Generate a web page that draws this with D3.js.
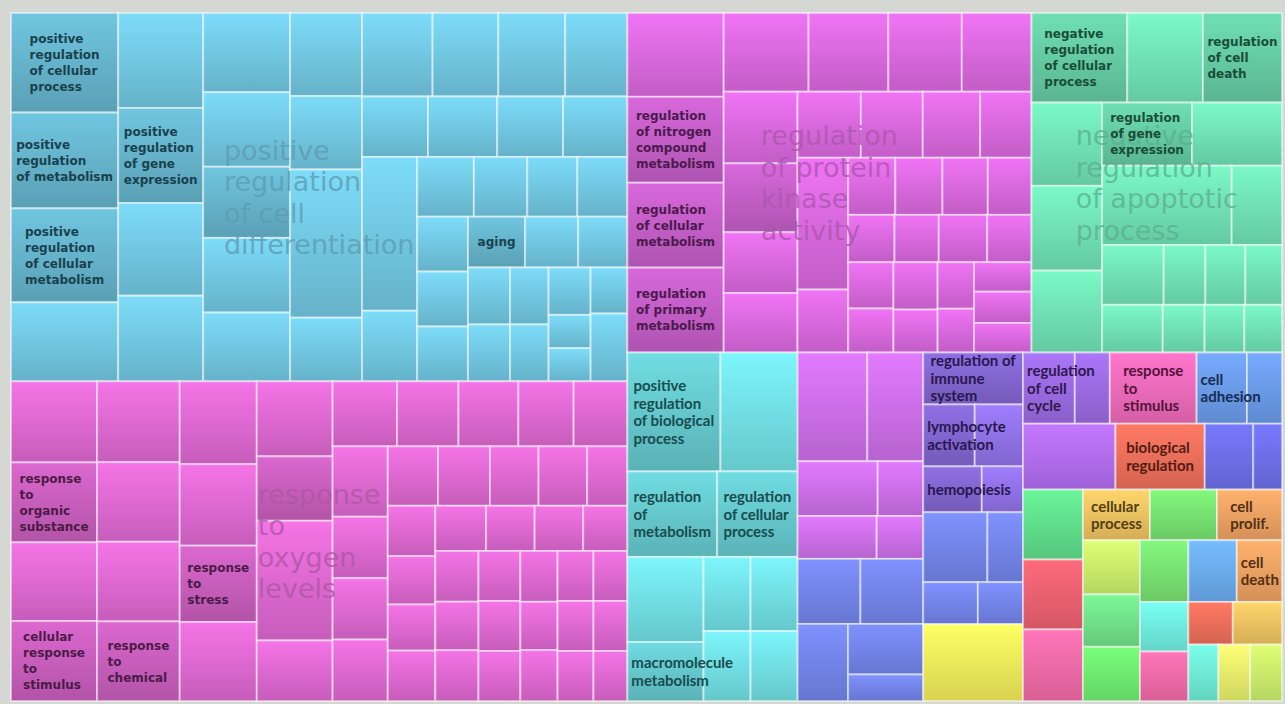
<!DOCTYPE html>
<html>
<head>
<meta charset="utf-8">
<script src="https://cdn.jsdelivr.net/npm/d3@7"></script>
<style>
  body { margin: 0; background: #d5d7d3; }
  svg { display: block; }
</style>
</head>
<body>
<svg id="drawing_region"></svg>
<script>
// base colours of the clusters (cells get a light-to-dark vertical gradient)
const palette = {
  blue: "#70c6e0", pink: "#dc68cf", kinase: "#d868dc", green: "#6fe0b3",
  cyan: "#70dde2", violet: "#cb6ee6", bluev: "#7283e8", purple: "#9070e4",
  yellow: "#f0ea5a", plum: "#9a6ae0", rose: "#ec6ab8", sky: "#6a9ae6",
  orchid: "#b06cee", coral: "#ec6e5a", indigo: "#6c6ee6", mint: "#5fdc8a",
  rosered: "#ec6070", hotpink: "#f06aa6", sand: "#ecc060", lime: "#76e070",
  apricot: "#eca062", chartreuse: "#c8ee6a", spring: "#70e088", leaf: "#6eec6e",
  aqua: "#6eecdc", azure: "#6aaaee", lemon: "#e4ee6a", teal: "#6eecd4"
};

// cell sizes (areas) of each cluster; h = side by side, v = stacked
// a leaf is a value, or [value, label, colour]
const blueCells = {c: "blue", big: "positive\nregulation\nof cell\ndifferentiation", h: [
  {v: [[107, "positive\nregulation\nof cellular\nprocess"], [103, "positive\nregulation\nof metabolism"], [101, "positive\nregulation\nof cellular\nmetabolism"], 85]},
  {v: [81, [81, "positive\nregulation\nof gene\nexpression"], 79, 73]},
  {v: [69, 65, [62, ""], 65, 60]},
  {v: [60, 53, 107, 46]},
  {v: [
    {h: [59, 55, 56, 52]},
    {h: [40, 42, 40, 39]},
    {h: [
      {v: [85, 39]},
      {v: [
        {h: [34, 32, 30, 30]},
        {h: [
          {v: [28, 28, 28]},
          {v: [
            {h: [[29, "aging"], 27, 25]},
            {h: [{v: [24, 24]}, {v: [22, 22]}, {v: [20, 14, 14]}, {v: [17, 25]}]}
          ]}
        ]}
      ]}
    ]}
  ]}
]};

const pinkCells = {c: "pink", big: "response\nto\noxygen\nlevels", h: [
  {v: [70, [69, "response\nto\norganic\nsubstance"], 68, [69, "cellular\nresponse\nto\nstimulus"]]},
  {v: [67, 66, 66, [66, "response\nto\nchemical"]]},
  {v: [64, 63, [59, "response\nto\nstress"], 61]},
  {v: [57, [49, ""], 91, 46]},
  {v: [
    {h: [42, 40, 39, 36, 35]},
    {h: [
      {v: [39, 34, 34, 34]},
      {v: [
        {h: [30, 31, 29, 29, 24]},
        {h: [
          {v: [24, 23, 22, 24]},
          {v: [
            {h: [23, 22, 22, 20]},
            {h: [{v: [22, 21, 22]}, {v: [21, 21, 21]}, {v: [19, 18, 19]}, {v: [18, 18, 18]}, {v: [17, 17, 17]}]}
          ]}
        ]}
      ]}
    ]}
  ]}
]};

const kinaseCells = {c: "kinase", big: "regulation\nof protein\nkinase\nactivity", h: [
  {v: [81, [83, "regulation\nof nitrogen\ncompound\nmetabolism"], [82, "regulation\nof cellular\nmetabolism"], [82, "regulation\nof primary\nmetabolism"]]},
  {v: [
    {h: [67, 63, 58, 55]},
    {h: [
      {v: [53, [51, ""], 45, 44]},
      {v: [
        {h: [42, 41, 38, 34]},
        {h: [
          {v: [67, 32]},
          {v: [
            {h: [27, 27, 26, 25]},
            {h: [22, 21, 23, 21]},
            {h: [{v: [21, 20]}, {v: [21, 19]}, {v: [17, 16]}, {v: [17, 18, 17]}]}
          ]}
        ]}
      ]}
    ]}
  ]}
]};

const apoptosisCells = {c: "green", big: "negative\nregulation\nof apoptotic\nprocess", v: [
  {h: [[86, "negative\nregulation\nof cellular\nprocess"], 68, [71, "regulation\nof cell\ndeath"]]},
  {h: [
    {v: [59, 60, 58]},
    {v: [
      {h: [[57, "regulation\nof gene\nexpression"], 57]},
      {h: [103, 40]},
      {h: [37, 25, 24, 22]},
      {h: [29, 20, 19, 18]}
    ]}
  ]}
]};

const cyanCells = {c: "cyan", s: "b", v: [
  {h: [[111, "positive\nregulation\nof biological\nprocess"], 92]},
  {h: [[77, "regulation\nof\nmetabolism"], [69, "regulation\nof cellular\nprocess"]]},
  {h: [{v: [65, [45, "macromolecule\nmetabolism"]]}, {v: [35, 33]}, {v: [35, 33]}]}
]};

const violetCells = {s: "b", v: [
  {c: "violet", v: [{h: [76, 61]}, {h: [44, 25]}, {h: [34, 20]}]},
  {c: "bluev", v: [{h: [41, 41]}, {h: [39, {v: [38, 20]}]}]}
]};

const immuneCells = {c: "purple", s: "b", v: [
  [52, "regulation of\nimmune\nsystem"],
  {h: [[32, "lymphocyte\nactivation"], 30]},
  {h: [[27, "hemopoiesis"], 19]},
  {c: "bluev", h: [45, 25]},
  {c: "bluev", h: [23, 19]},
  [77, null, "yellow"]
]};

const miscCells = {s: "b", v: [
  {h: [[37, "regulation\nof cell\ncycle", "plum"], [25, null, "plum"], [62, "response\nto\nstimulus", "rose"], [36, "cell\nadhesion", "sky"], [25, null, "sky"]]},
  {h: [[61, null, "orchid"], [59, "biological\nregulation", "coral"], [32, null, "indigo"], [19, null, "indigo"]]},
  {h: [
    {v: [[42, null, "mint"], [42, null, "rosered"], [43, null, "hotpink"]]},
    {v: [
      {h: [[34, "cellular\nprocess", "sand"], [34, null, "lime"], [33, "cell\nprolif.", "apricot"]]},
      {h: [
        {v: [[31, null, "chartreuse"], [30, null, "spring"], [31, null, "leaf"]]},
        {v: [[30, null, "lime"], [24, null, "aqua"], [24, null, "hotpink"]]},
        {v: [
          {h: [[30, null, "azure"], [28, "cell\ndeath", "apricot"]]},
          {h: [[19, null, "coral"], [21, null, "sand"]]},
          {h: [[17, null, "teal"], [18, null, "lemon"], [18, null, "chartreuse"]]}
        ]}
      ]}
    ]}
  ]}
]};

const rootSpec = {h: [
  {v: [blueCells, pinkCells]},
  {v: [{h: [kinaseCells, apoptosisCells]}, {h: [cyanCells, violetCells, immuneCells, miscCells]}]}
]};

const fonts = {
  a: {font: "bold 12px 'DejaVu Sans'", family: "DejaVu Sans", size: 12, lh: 16},
  b: {font: "bold 15px Lato", family: "Lato", size: 15, lh: 17.5},
  big: {font: "27px 'DejaVu Sans'", family: "DejaVu Sans", size: 27, lh: 31.5}
};

const config = {width: 1285, height: 704, margin: {top: 13, left: 11, right: 3, bottom: 3}};

function build(spec) {
  if (typeof spec === "number") return {value: spec};
  if (Array.isArray(spec)) return {value: spec[0], label: spec[1], color: spec[2]};
  return {dir: spec.h ? "h" : "v", c: spec.c, s: spec.s, big: spec.big,
          children: (spec.h || spec.v).map(build)};
}

const ctx = document.createElement("canvas").getContext("2d");
function textWidth(s, font) { ctx.font = font; return ctx.measureText(s).width; }
function find(node, key) { for (let a = node; a; a = a.parent) if (a.data[key]) return a.data[key]; }

const inner_width = config.width - config.margin.left - config.margin.right;
const inner_height = config.height - config.margin.top - config.margin.bottom;

const root = d3.hierarchy(build(rootSpec)).sum(d => d.value || 0);
d3.treemap()
  .size([inner_width, inner_height])
  .tile((node, x0, y0, x1, y1) => (node.data.dir === "h" ? d3.treemapDice : d3.treemapSlice)(node, x0, y0, x1, y1))
  (root);

const svg = d3.select("#drawing_region").attr("width", config.width).attr("height", config.height);
const defs = svg.append("defs");
const chart = svg.append("g").attr("transform", `translate(${config.margin.left}, ${config.margin.top})`);

const gradients = new Set();
function fillFor(key, hi) {
  const id = `g-${key}-${hi ? 1 : 0}`;
  if (!gradients.has(id)) {
    gradients.add(id);
    let base = d3.color(palette[key]);
    if (hi) base = base.darker(0.3);
    const lg = defs.append("linearGradient").attr("id", id).attr("x1", 0).attr("y1", 0).attr("x2", 0).attr("y2", 1);
    lg.append("stop").attr("offset", "0%").attr("stop-color", base.brighter(0.3).formatHex());
    lg.append("stop").attr("offset", "100%").attr("stop-color", base.darker(0.3).formatHex());
  }
  return `url(#${id})`;
}

const leaves = root.leaves();
leaves.forEach(d => {
  d.key = d.data.color || find(d, "c");
  d.hi = d.data.label != null && !d.data.color;
});

chart.selectAll("rect.cell")
  .data(leaves)
  .join("rect")
  .attr("class", "cell")
  .attr("x", d => d.x0).attr("y", d => d.y0)
  .attr("width", d => d.x1 - d.x0).attr("height", d => d.y1 - d.y0)
  .attr("fill", d => fillFor(d.key, d.hi))
  .attr("stroke", "#ffffff").attr("stroke-opacity", 0.5).attr("stroke-width", 2);

function drawLines(lines, cx, cy, x0, f, fill, opacity) {
  const w = d3.max(lines, l => textWidth(l, f.font));
  const left = Math.max(cx - w / 2, x0 + 4);
  const top = cy - lines.length * f.lh / 2;
  const t = chart.append("text")
    .attr("font-family", f.family).attr("font-size", f.size)
    .attr("font-weight", f === fonts.big ? "normal" : "bold")
    .attr("fill", fill).attr("fill-opacity", opacity);
  lines.forEach((l, i) => {
    t.append("tspan").attr("x", left).attr("y", top + i * f.lh + (f.lh + f.size * 0.72) / 2).text(l);
  });
}

// big cluster labels
root.descendants().filter(d => d.data.big).forEach(d => {
  const c = d3.hsl(palette[d.data.c]);
  c.s *= 0.55; c.l *= 0.8;
  drawLines(d.data.big.split("\n"), (d.x0 + d.x1) / 2, (d.y0 + d.y1) / 2, d.x0, fonts.big, c.formatHex(), 0.8);
});

// term labels
leaves.filter(d => d.data.label).forEach(d => {
  const f = fonts[find(d, "s") || "a"];
  const c = d3.hsl(palette[d.key]);
  c.l = 0.2; c.s *= 0.8;
  drawLines(d.data.label.split("\n"), (d.x0 + d.x1) / 2, (d.y0 + d.y1) / 2, d.x0, f, c.formatHex(), 1);
});
</script>
</body>
</html>
